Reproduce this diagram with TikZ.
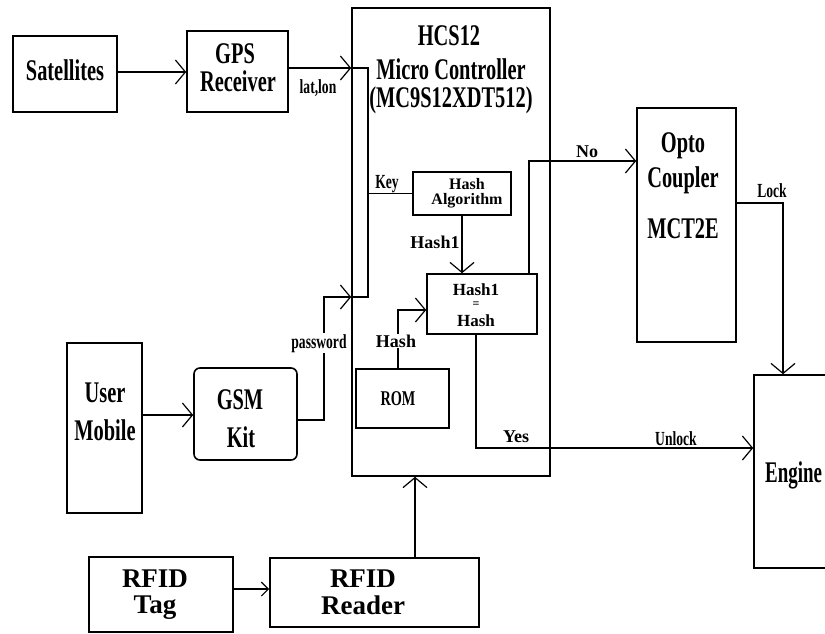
\documentclass[tikz,border=0pt]{standalone}
\usepackage{fontspec}
\setmainfont{Liberation Serif}
\newfontfamily\cnd[FakeStretch=0.68]{Liberation Serif}
\newfontfamily\cndn[FakeStretch=0.63]{Liberation Serif}
\usetikzlibrary{arrows.meta,calc}
\tikzset{
  box/.style={draw, line width=1.6pt, rectangle, inner sep=0pt},
  ln/.style={line width=1.5pt},
  arr/.style={line width=1.5pt, -{Straight Barb[length=10pt,width=24pt,line width=1.2pt]}},
  sarr/.style={line width=1.5pt, -{Straight Barb[length=7pt,width=14pt,line width=1.2pt]}},
  big/.style={font=\fontsize{30}{31}\cnd\bfseries, anchor=base, inner sep=0pt},
  rfid/.style={font=\fontsize{27}{27}\selectfont\bfseries, anchor=base, inner sep=0pt},
  lbl/.style={font=\fontsize{20}{22}\cnd\bfseries, anchor=base, inner sep=0pt},
  hl/.style={font=\fontsize{18}{19}\selectfont\bfseries, anchor=base, inner sep=0pt},
  sm/.style={font=\fontsize{16}{17}\selectfont\bfseries, anchor=base, inner sep=0pt},
}
\begin{document}
\begin{tikzpicture}[x=1pt,y=-1pt]
\useasboundingbox (0,0) rectangle (825,633);
\fill[white] (0,0) rectangle (825,633);
\clip (0,0) rectangle (825,633);

% boxes
\node[box, minimum width=104, minimum height=76] (sat) at (65,74) {};
\node[box, minimum width=101, minimum height=81] (gps) at (237.5,71.5) {};
\node[box, minimum width=198, minimum height=468] (mcu) at (451,242) {};
\node[box, minimum width=98, minimum height=43] (ha) at (462,193.5) {};
\node[box, minimum width=110, minimum height=60] (heq) at (482,304) {};
\node[box, minimum width=93, minimum height=59] (rom) at (402.5,398.5) {};
\node[box, minimum width=99, minimum height=234] (opto) at (686.5,225) {};
\node[box, minimum width=86, minimum height=193] (eng) at (797,471.5) {};
\node[box, minimum width=75, minimum height=170] (user) at (104.5,428) {};
\node[box, rounded corners=6pt, minimum width=103, minimum height=92] (gsm) at (245.5,414) {};
\node[box, minimum width=144, minimum height=75] (tag) at (161,594.5) {};
\node[box, minimum width=209, minimum height=69] (reader) at (374.5,592.5) {};

% box texts
\node[big] (satT) at (65,80) {Satellites};
\node[big] (gpsT1) at (235,63) {GPS};
\node[big] (gpsT2) at (238,91) {Receiver};
\node[big] (mcuT1) at (449,45) {HCS12};
\node[big] (mcuT2) at (451,79) {Micro Controller};
\node[big] (mcuT3) at (451,107) {(MC9S12XDT512)};
\node[sm] (haT1) at (467,189) {Hash};
\node[sm] (haT2) at (467,204) {Algorithm};
\node[font=\fontsize{17}{18}\selectfont\bfseries, anchor=base, inner sep=0pt] (heqT1) at (476,295) {Hash1};
\node[font=\fontsize{12}{12}\selectfont\bfseries, anchor=base, inner sep=0pt] (heqT2) at (476,307) {=};
\node[font=\fontsize{17}{18}\selectfont\bfseries, anchor=base, inner sep=0pt] (heqT3) at (476,326) {Hash};
\node[font=\fontsize{21}{22}\cnd\bfseries, anchor=base, inner sep=0pt] (romT) at (398,405) {ROM};
\node[big] (optoT1) at (683,152) {Opto};
\node[big] (optoT2) at (683,187) {Coupler};
\node[big] (optoT3) at (683,238) {MCT2E};
\node[font=\fontsize{30}{31}\cndn\bfseries, anchor=base west, inner sep=0pt] (engT) at (765,482) {Engine};
\node[big] (userT1) at (105,402) {User};
\node[big] (userT2) at (105,440) {Mobile};
\node[big] (gsmT1) at (240,409) {GSM};
\node[big] (gsmT2) at (241,447) {Kit};
\node[rfid] (tagT1) at (155,587) {RFID};
\node[rfid] (tagT2) at (155,613) {Tag};
\node[rfid] (readerT1) at (363,587) {RFID};
\node[rfid] (readerT2) at (363,614) {Reader};

% connectors
\draw[arr] (sat.east |- 0,72) -- (gps.west |- 0,72);
\draw[arr] (gps.east |- 0,68) -- (mcu.west |- 0,68);
\coordinate (bt) at (368,68);
\coordinate (bb) at (368,297);
\draw[ln] (mcu.west |- bt) -- (bt) -- (bb) -- (mcu.west |- bb);
\draw[ln] (bt |- ha.west) -- (ha.west);
\draw[arr] (ha.south) -- (ha.south |- heq.north);
\coordinate (rh) at (398,310);
\draw[arr] (rom.north -| rh) -- (rh) -- (heq.west |- rh);
\coordinate (nc) at (529,161);
\draw[arr] (heq.north -| nc) -- (nc) -- (opto.west |- nc);
\coordinate (yc) at (476,448);
\draw[arr] (heq.south -| yc) -- (yc) -- (eng.west |- yc);
\coordinate (lc) at (783,203);
\draw[arr] (opto.east |- lc) -- (lc) -- (eng.north -| lc);
\draw[arr] (user.east |- 0,415) -- (gsm.west |- 0,415);
\coordinate (pc) at (324,420);
\coordinate (pc2) at (324,297);
\draw[arr] (gsm.east |- pc) -- (pc) -- (pc2) -- (mcu.west |- pc2);
\draw[sarr] (tag.east |- 0,589) -- (reader.west |- 0,589);
\draw[arr] (reader.north -| 415,0) -- (mcu.south -| 415,0);

% connector labels
\node[lbl] (latlon) at (318,93) {lat,lon};
\node[lbl] (key) at (387,188) {Key};
\node[hl] (hash1l) at (435,248) {Hash1};
\node[hl, fill=white, inner sep=1pt] (hashl) at (396,347) {Hash};
\node[lbl, fill=white, inner sep=1pt] (pw) at (319,348) {password};
\node[hl] (nol) at (587,157) {No};
\node[hl] (yesl) at (516,442) {Yes};
\node[lbl] (lockl) at (772,197) {Lock};
\node[lbl] (unlockl) at (676,445) {Unlock};
\end{tikzpicture}
\end{document}
